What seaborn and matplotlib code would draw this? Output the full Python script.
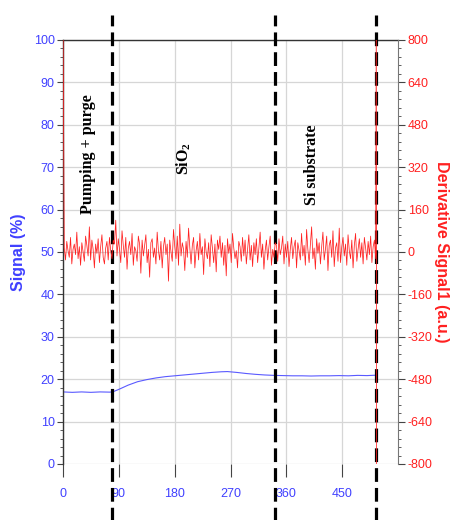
import numpy as np
import pandas as pd
import seaborn as sns
import matplotlib.pyplot as plt
from matplotlib.ticker import MultipleLocator

sns.set_style("white")
plt.rcParams['font.family'] = ['Liberation Sans', 'DejaVu Sans']
plt.rcParams['mathtext.default'] = 'regular'
plt.rcParams['axes.unicode_minus'] = False

# signal (%) vs time (s)
sig_t = [0, 15, 30, 45, 60, 75, 80, 90, 105, 120, 135, 150, 165, 180, 195, 210, 225,
         240, 255, 265, 280, 295, 310, 325, 340, 355, 370, 385, 400, 415, 430, 445,
         460, 475, 490, 505]
sig_v = [17.0, 16.9, 17.0, 16.9, 17.0, 16.95, 17.0, 17.6, 18.6, 19.4, 19.9, 20.3, 20.6,
         20.8, 21.0, 21.2, 21.4, 21.6, 21.75, 21.8, 21.6, 21.35, 21.15, 21.0, 20.9, 20.85,
         20.8, 20.8, 20.75, 20.8, 20.8, 20.85, 20.8, 20.9, 20.85, 20.95]

# derivative signal (a.u.)
deriv_v = [900,
           15, -30, 40, 5, -20, 55, -45, 10, 30, -10, 75, -25, 20, -50, 35, 0, -35, 60, 25,
           -15, 95, -30, 45, 10, -60, 30, -5, 50, -40, 20, 65, -20, -45, 15, 40, -30, 55, 5,
           -25, 45,
           30, 120, -15, 50, 10, -40, 80, 25, -20, 55, -65, 15, 40, -10, 70, -50, 20, 5, -35,
           60, 30, -80, 45, -15, 25, 65, -40, 10, -95, 35, 50, -20, 15, -45, 75, 5, -30, 40,
           -60, 20, 55, -10, 30, -110, 45, 0, -35, 85, 20, -25, 60, -50, 105, -15, 35, 10,
           -70, 40, -20, 90, 15, -45, 25, 55, -60, 5, 40, -30, 70, -10, 20, -85, 50, 0, -25,
           35, -55, 65, 15, -40, 30, -75, 45, 10, 60, -20, 35, -50, 25, -90, 50, -5, 30, -40,
           70, 15, -25, 5, -60, 40, 20, -35, 55, -15, 45, -45, 10, 65, -30, 25, -55, 35, -10,
           50, -40, 15, 75, -20, 30, -65, 5, 45, -30, 20, 60, -50, 10, -20, 35,
           25, -35, 50, -10, 15, 60, -45, 30, -20, 40, -55, 10, 55, -25, 20, 45, -60, 35, 5,
           -30, 70, -15, 25, -50, 85, 10, -40, 30, 95, -25, 15, -65, 50, -5, 35, -45, 20, 75,
           -30, 10, 60, -70, 25, 45, -20, 80, -55, 15, 35, -35, 90, -40, 20, 55, -15, 30, -50,
           65, 5, -25, 45, -60, 25, 70, -35, 10, 50, -20, 35, -45, 55, 15, -30, 40, -10, 60,
           -40, 20, 45, -25,
           900, -900]
deriv_t = list(np.linspace(0, 504, len(deriv_v) - 2)) + [505, 505.5]

x_ticks = [0, 90, 180, 270, 360, 450]
boundaries = [79, 341, 505]
labels = ["Pumping + purge", "SiO$_2$", "Si substrate"]
label_x = [40, 195, 401]
label_y = [73, 72, 70.5]

blue = "#4040ff"
red = "#ff2020"

fig = plt.figure(figsize=(4.5, 5.2), dpi=100)
ax = fig.add_axes([63 / 450, 56 / 520, 335 / 450, 424 / 520])
ax2 = ax.twinx()

sns.lineplot(x=sig_t, y=sig_v, ax=ax, color="#5a5aff", lw=0.8)
sns.lineplot(x=deriv_t, y=deriv_v, ax=ax2, color=red, lw=0.55, sort=False)

ax.set_xlim(0, 540)
ax.set_ylim(0, 100)
ax2.set_ylim(-800, 800)
ax.set_xticks(x_ticks)
ax.yaxis.set_major_locator(MultipleLocator(10))
ax.yaxis.set_minor_locator(MultipleLocator(2))
ax2.yaxis.set_major_locator(MultipleLocator(160))
ax2.yaxis.set_minor_locator(MultipleLocator(32))

ax.grid(True, color="#d6d6d6", lw=0.9)
ax.set_axisbelow(True)

for s in ["top", "left"]:
    ax.spines[s].set_color("#333333")
    ax.spines[s].set_linewidth(1.0)
ax.spines["bottom"].set_visible(False)
ax.spines["right"].set_visible(False)
ax2.spines["right"].set_color("#777777")
ax2.spines["top"].set_visible(False)
ax2.spines["left"].set_visible(False)
ax2.spines["bottom"].set_visible(False)

ax.tick_params(axis="y", which="major", direction="out", length=4, color="#444444",
               labelcolor=blue, labelsize=9, left=True, pad=2)
ax.tick_params(axis="y", which="minor", direction="out", length=2.5, color="#444444", left=True)
ax.tick_params(axis="x", which="major", direction="out", length=9, color="#444444",
               labelcolor=blue, labelsize=9, bottom=True, pad=8)
ax2.tick_params(axis="y", which="major", direction="out", length=5, color="#444444",
                labelcolor=red, labelsize=9, right=True, pad=2)
ax2.tick_params(axis="y", which="minor", direction="out", length=2.5, color="#444444", right=True)

ax.set_ylabel("Signal (%)", color=blue, fontsize=11.5, fontweight="bold",
              ha="center", va="center")
ax.yaxis.set_label_coords(-0.134, 0.5)
ax2.set_ylabel("Derivative Signal1 (a.u.)", color=red, fontsize=11.5, fontweight="bold",
               rotation=270, ha="center", va="center")
ax2.yaxis.set_label_coords(1.13, 0.5)
ax.set_xlabel("")

for b in boundaries:
    ax.axvline(b, ymin=-0.2, ymax=1.06, color="black", lw=2.3, ls=(0, (4.3, 1.9)),
               clip_on=False, zorder=5)

for txt, x, y in zip(labels, label_x, label_y):
    ax.text(x, y, txt, rotation=90, ha="center", va="center", fontsize=11.5,
            fontweight="bold", family="Liberation Serif", color="black")

fig.savefig("out.png", dpi=100)
